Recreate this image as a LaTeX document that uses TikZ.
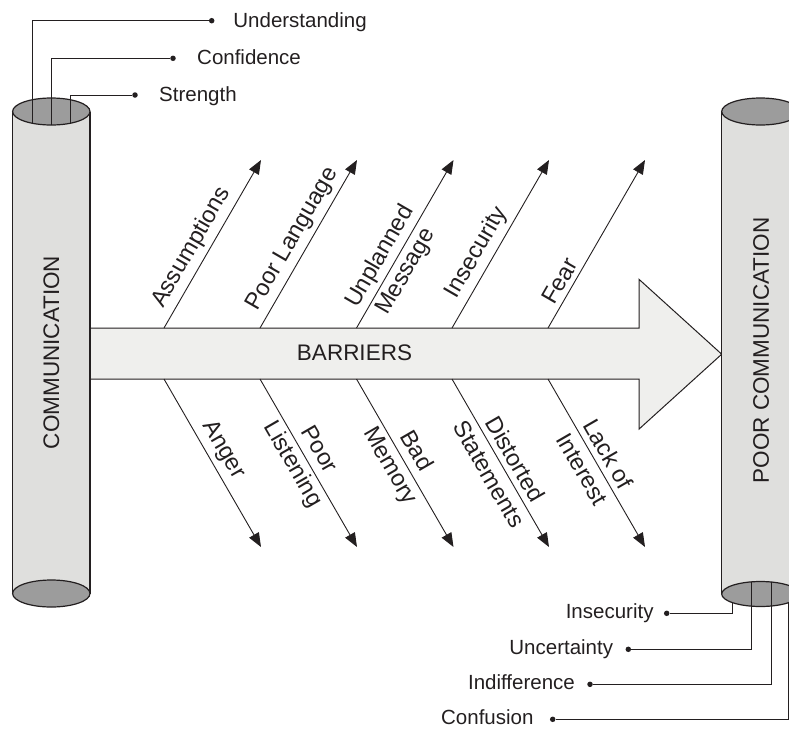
\documentclass[tikz,border=0pt]{standalone}
\usepackage{fontspec}
\setmainfont{Liberation Sans}
\usetikzlibrary{arrows.meta}

\definecolor{ink}{HTML}{231F20}
\definecolor{bodygray}{HTML}{DFDFDD}
\definecolor{capgray}{HTML}{9C9C9C}
\definecolor{shaftgray}{HTML}{EFEFED}

\tikzset{
  lbl/.style={font=\fontsize{20.5}{24}\selectfont, text=ink, inner sep=0pt},
  bigtxt/.style={font=\fontsize{22.5}{26}\selectfont, text=ink, inner sep=0pt},
  dot/.style={circle, fill=ink, inner sep=0pt, minimum size=5.5pt},
  lead/.style={draw=ink, line width=1pt},
  outline/.style={draw=ink, line width=1.2pt},
  branch/.style={draw=ink, line width=0.9pt, -{Triangle[length=14pt,width=11pt]}},
  cause/.style={font=\fontsize{23.5}{28}\selectfont, text=ink, sloped, inner sep=5pt},
  cause2/.style={font=\fontsize{23.5}{30}\selectfont, text=ink, sloped, align=center, inner sep=0pt},
}

\begin{document}
\begin{tikzpicture}[x=1pt,y=-1pt]
\useasboundingbox (0,0) rectangle (789,729);
\clip (0,0) rectangle (789,729);

% ---------- main arrow ----------
\fill[shaftgray] (90,328) -- (639,328) -- (639,279.3) -- (721.7,354.2)
  -- (639,429.1) -- (639,379) -- (90,379) -- cycle;
\draw[outline, line width=1pt] (90,328) -- (639,328) -- (639,279.3) -- (721.7,354.2)
  -- (639,429.1) -- (639,379) -- (90,379);
\node[bigtxt] (barriers) at (354.5,353) {BARRIERS};

% ---------- left cylinder ----------
\fill[bodygray] (12.6,111.5) rectangle (90,593.5);
\draw[outline] (12.6,111.5) -- (12.6,593.5) (90,111.5) -- (90,593.5);
\draw[outline, fill=capgray] (51.3,111.5) ellipse [x radius=38.7, y radius=13.5];
\draw[outline, fill=capgray] (51.3,593.5) ellipse [x radius=38.7, y radius=13.5];
\node[bigtxt, rotate=90] (commL) at (51.5,352.5) {COMMUNICATION};

% ---------- right cylinder ----------
\fill[bodygray] (721.7,111.5) rectangle (799.3,594);
\draw[outline] (721.7,111.5) -- (721.7,594) (799.3,111.5) -- (799.3,594);
\draw[outline, fill=capgray] (760.5,111.5) ellipse [x radius=38.8, y radius=13.5];
\draw[outline, fill=capgray] (760.5,594) ellipse [x radius=38.8, y radius=12.5];
\node[bigtxt, rotate=90] (commR) at (761,350.5) {POOR COMMUNICATION};

% ---------- branch anchors ----------
\foreach \i/\x in {1/164,2/260,3/356.5,4/452,5/548}{
  \coordinate (up\i)  at (\x,328);
  \coordinate (upe\i) at (\x+97,160);
  \coordinate (dn\i)  at (\x,379);
  \coordinate (dne\i) at (\x+97,547);
}

% ---------- upper causes ----------
\draw[branch] (up1) -- node[cause, above, pos=0.43] (cAssump) {Assumptions} (upe1);
\draw[branch] (up2) -- node[cause, above, pos=0.48] (cLang) {Poor Language} (upe2);
\draw[branch] (up3) -- node[cause2, pos=0.38] (cMsg) {Unplanned\\Message} (upe3);
\draw[branch] (up4) -- node[cause, above, pos=0.40] (cInsec) {Insecurity} (upe4);
\draw[branch] (up5) -- node[cause, above, pos=0.24] (cFear) {Fear} (upe5);

% ---------- lower causes ----------
\draw[branch] (dn1) -- node[cause, above, pos=0.47] (cAnger) {Anger} (dne1);
\draw[branch] (dn2) -- node[cause2, pos=0.466] (cListen) {Poor\\Listening} (dne2);
\draw[branch] (dn3) -- node[cause2, pos=0.475] (cMem) {Bad\\Memory} (dne3);
\draw[branch] (dn4) -- node[cause2, pos=0.52] (cStat) {Distorted\\Statements} (dne4);
\draw[branch] (dn5) -- node[cause2, pos=0.49] (cInt) {Lack of\\Interest} (dne5);

% ---------- leads from the left cylinder ----------
\coordinate (lc1) at (32,123.3);
\coordinate (lc2) at (51.3,125);
\coordinate (lc3) at (70,123.3);
\node[dot] (dUnd) at (211.7,20.7) {};
\node[dot] (dConf) at (173,58.3) {};
\node[dot] (dStr) at (135,95) {};
\draw[lead] (lc1) |- (dUnd);
\draw[lead] (lc2) |- (dConf);
\draw[lead] (lc3) |- (dStr);
\node[lbl, anchor=base west] (tUnd) at ([xshift=21.5pt,yshift=-6.5pt]dUnd) {Understanding};
\node[lbl, anchor=base west] (tConf) at ([xshift=24pt,yshift=-6.5pt]dConf) {Confidence};
\node[lbl, anchor=base west] (tStr) at ([xshift=24pt,yshift=-6.5pt]dStr) {Strength};

% ---------- leads from the right cylinder ----------
\coordinate (rc1) at (732.3,602.5);
\coordinate (rc2) at (751.7,581.8);
\coordinate (rc3) at (771.3,582);
\coordinate (rc4) at (788.3,602.7);
\node[dot] (dIns) at (666.7,613.3) {};
\node[dot] (dUnc) at (628.3,649.3) {};
\node[dot] (dInd) at (590,684.3) {};
\node[dot] (dCnf) at (552.7,719.3) {};
\draw[lead] (rc1) |- (dIns);
\draw[lead] (rc2) |- (dUnc);
\draw[lead] (rc3) |- (dInd);
\draw[lead] (rc4) |- (dCnf);
\node[lbl, anchor=base east] (tIns) at ([xshift=-13pt,yshift=-5.5pt]dIns) {Insecurity};
\node[lbl, anchor=base east] (tUnc) at ([xshift=-15pt,yshift=-5.5pt]dUnc) {Uncertainty};
\node[lbl, anchor=base east] (tInd) at ([xshift=-15pt,yshift=-5.5pt]dInd) {Indifference};
\node[lbl, anchor=base east] (tCnf) at ([xshift=-19pt,yshift=-5.5pt]dCnf) {Confusion};
\end{tikzpicture}
\end{document}
